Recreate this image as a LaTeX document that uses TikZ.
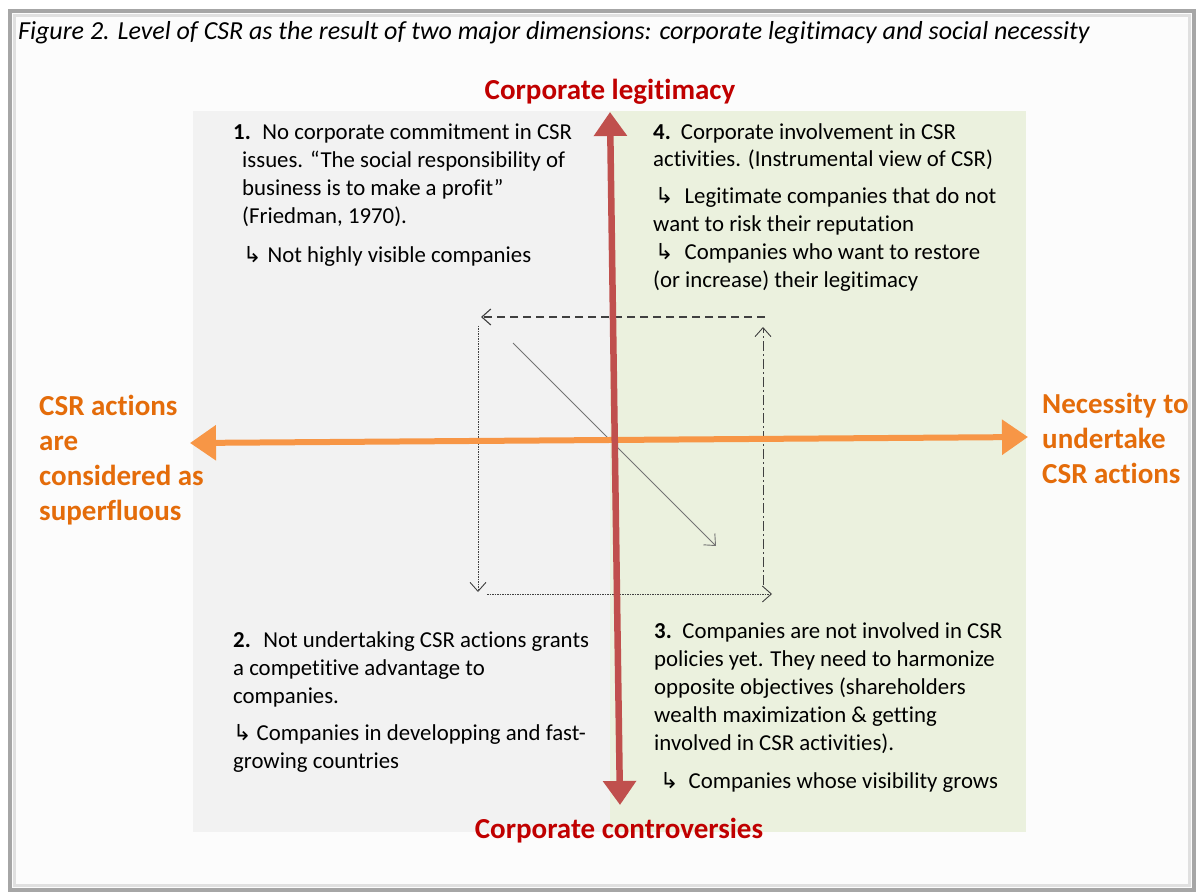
\documentclass[tikz,border=0pt]{standalone}
\usepackage{fontspec}
\setmainfont{Carlito}[Ligatures=NoCommon]
\newfontfamily\arrowfont{DejaVu Sans}
\usetikzlibrary{arrows.meta}

\definecolor{axisred}{HTML}{C0504D}
\definecolor{labelred}{HTML}{C00000}
\definecolor{axisorange}{HTML}{F79646}
\definecolor{labelorange}{HTML}{E46C0A}
\definecolor{leftfill}{HTML}{F2F2F2}
\definecolor{rightfill}{HTML}{EBF1DE}
\definecolor{framegray}{HTML}{A6A6A6}

\newcommand{\hk}{{\arrowfont\fontsize{22}{22}\selectfont ↳}}

\begin{document}
\begin{tikzpicture}[x=1pt, y=-1pt,
    quad/.style={anchor=base west, align=left, inner sep=0pt, font=\fontsize{22.8}{28}\selectfont},
    axislabel/.style={inner sep=0pt, font=\fontsize{29}{35}\selectfont\bfseries},
    redaxis/.style={draw=axisred, line width=6.5pt, {Triangle[length=24pt, width=32pt]}-{Triangle[length=24pt, width=32pt]}},
    orangeaxis/.style={draw=axisorange, line width=6pt, {Triangle[length=26pt, width=34pt]}-{Triangle[length=26pt, width=34pt]}},
    cycle arrow/.style={draw=black!75, line width=0.9pt, -{Straight Barb[length=9pt, width=16pt]}}]
    \useasboundingbox (0,0) rectangle (1197,893);

    % frame and the two halves
    \fill[white!99!black] (10,11) rectangle (1194,890);
    \draw[framegray, line width=4pt] (10,11) rectangle (1194,890);
    \draw[black!12, line width=3pt] (14.5,15.5) rectangle (1189.5,885.5);
    \fill[leftfill] (193,111) rectangle (610,832);
    \fill[rightfill] (610,111) rectangle (1026,832);

    \node[anchor=base west, inner sep=0pt, font=\fontsize{26}{30}\selectfont\itshape] (title) at (18,40)
        {Figure 2. Level of CSR as the result of two major dimensions: corporate legitimacy and social necessity};

    % quadrants (multi-line nodes sit on their last baseline)
    \node[quad] (q1) at (242,263) {\hspace*{-9pt}\textbf{1.}\hspace{11.6pt}No corporate commitment in CSR\\
        issues. “The social responsibility of\\
        business is to make a profit”\\
        (Friedman, 1970).\\[11pt]
        \hspace*{1pt}\hk\hspace{6pt}Not highly visible companies};
    \node[quad] (q4) at (653,288) {\textbf{4.}\hspace{10pt}Corporate involvement in CSR\\
        activities. (Instrumental view of CSR)\\[9pt]
        \hspace*{2pt}\hk\hspace{11pt}Legitimate companies that do not\\
        want to risk their reputation\\
        \hspace*{2pt}\hk\hspace{11pt}Companies who want to restore\\
        (or increase) their legitimacy};
    \node[quad] (q2) at (233,768) {\textbf{2.}\hspace{12.6pt}Not undertaking CSR actions grants\\
        a competitive advantage to\\
        companies.\\[9pt]
        \hk\hspace{5pt}Companies in developping and fast-\\
        growing countries};
    \node[quad] (q3) at (654,788) {\textbf{3.}\hspace{10.6pt}Companies are not involved in CSR\\
        policies yet. They need to harmonize\\
        opposite objectives (shareholders\\
        wealth maximization \& getting\\
        involved in CSR activities).\\[10pt]
        \hspace*{6pt}\hk\hspace{10pt}Companies whose visibility grows};

    % cycle between the quadrants
    \coordinate (ne) at (765,317);
    \coordinate (nw) at (481,317);
    \coordinate (wn) at (478,326);
    \coordinate (ws) at (478,592);
    \coordinate (sw) at (487,594);
    \coordinate (se) at (772,594);
    \coordinate (es) at (763,585);
    \coordinate (en) at (763,327);
    \coordinate (dn) at (513,343);
    \coordinate (ds) at (716,546);
    \draw[cycle arrow, line width=1.1pt, dash pattern=on 8pt off 5pt] (ne) -- (nw);
    \draw[cycle arrow, dash pattern=on 1.5pt off 1pt] (wn) -- (ws);
    \draw[cycle arrow, dash pattern=on 1.5pt off 1pt] (sw) -- (se);
    \draw[cycle arrow, dash pattern=on 10pt off 3pt on 2pt off 3pt] (es) -- (en);
    \draw[cycle arrow, draw=black!55] (dn) -- (ds);

    % axes
    \coordinate (top) at (610,112);
    \coordinate (bottom) at (620,805);
    \coordinate (left) at (190,443);
    \coordinate (right) at (1028,437);
    \draw[orangeaxis] (left) -- (right);
    \draw[redaxis] (top) -- (bottom);

    \node[axislabel, text=labelred, anchor=base] (legit) at (610,100) {Corporate legitimacy};
    \node[axislabel, text=labelred, anchor=base] (contro) at (619,838) {Corporate controversies};
    \node[axislabel, text=labelorange, align=left, anchor=base west] (superfluous) at (39,520)
        {CSR actions\\are\\considered as\\superfluous};
    \node[axislabel, text=labelorange, align=left, anchor=base west] (necessity) at (1042,483)
        {Necessity to\\undertake\\CSR actions};
\end{tikzpicture}
\end{document}
